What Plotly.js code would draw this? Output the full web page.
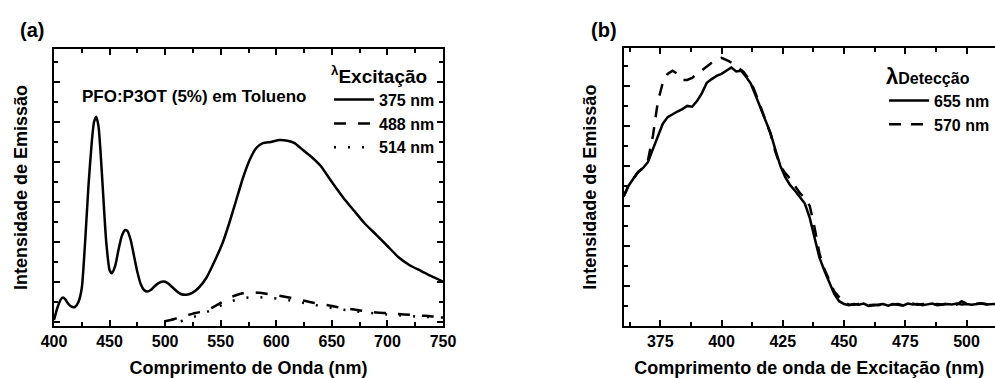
<!DOCTYPE html>
<html><head><meta charset="utf-8">
<script src="https://cdn.plot.ly/plotly-3.0.1.min.js"></script>
<style>html,body{margin:0;padding:0;overflow:hidden;background:#fff}#chart{width:995px;height:378px}</style>
</head><body><div id="chart"></div>
<script>
// ---------- Panel (a): emission spectra, PFO:P3OT (5%) in toluene ----------
const wlA375 = [400,403,406,408,410,413,416,419,422,425,428,431,434,436,438,440,442,444,447,450,452,455,458,461,464,466,469,472,475,478,481,484,487,490,494,498,502,506,510,514,519,524,530,537,545,552,558,564,570,576,582,588,595,603,610,616,624,632,640,650,660,670,680,690,700,710,720,730,740,750];
const intA375 = [0.05,0.35,0.56,0.61,0.57,0.45,0.38,0.38,0.50,0.85,2.0,3.4,4.5,5.0,5.13,4.9,4.2,3.3,2.0,1.30,1.22,1.40,1.80,2.15,2.30,2.28,2.05,1.65,1.25,0.95,0.80,0.76,0.80,0.88,0.97,1.01,0.98,0.88,0.78,0.70,0.68,0.72,0.85,1.10,1.55,2.00,2.50,3.05,3.60,4.05,4.35,4.47,4.50,4.55,4.53,4.48,4.30,4.12,3.90,3.50,3.12,2.78,2.45,2.18,1.90,1.62,1.42,1.28,1.14,1.01];
const wlA488 = [500,505,510,515,520,525,530,535,540,545,550,555,560,565,570,575,580,585,590,595,600,610,620,630,640,650,660,670,680,690,700,710,720,730,740,750];
const intA488 = [0.02,0.05,0.09,0.13,0.17,0.21,0.24,0.28,0.33,0.40,0.48,0.56,0.63,0.68,0.72,0.74,0.74,0.73,0.71,0.69,0.67,0.62,0.56,0.50,0.45,0.40,0.35,0.31,0.27,0.24,0.22,0.20,0.18,0.16,0.14,0.13];
const wlA514 = [514,520,525,530,535,540,545,550,555,560,565,570,575,580,585,590,595,600,610,620,630,640,650,660,670,680,690,700,710,720,730,740,750];
const intA514 = [0.02,0.07,0.12,0.17,0.22,0.28,0.34,0.41,0.47,0.52,0.56,0.59,0.61,0.62,0.62,0.61,0.60,0.59,0.55,0.50,0.45,0.40,0.35,0.31,0.27,0.24,0.21,0.19,0.17,0.15,0.13,0.12,0.11];
const ticksA = [400,450,500,550,600,650,700,750];

// ---------- Panel (b): excitation spectra ----------
const wlB655 = [360,362,364,366,368,370,372,374,376,378,380,382,384,386,388,390,392,394,396,398,400,402,404,406,408,410,412,414,416,418,420,422,424,426,428,430,432,434,436,438,440,442,444,446,448,450,452,454,456,458,460,462,464,466,468,470,472,474,476,478,480,482,484,486,488,490,492,494,496,498,500,502,504,506,508,510,512];
const intB655 = [3.23,3.50,3.68,3.85,3.95,4.10,4.42,4.75,5.05,5.22,5.30,5.36,5.42,5.50,5.48,5.62,5.82,6.08,6.17,6.25,6.30,6.38,6.46,6.36,6.38,6.23,6.05,5.75,5.45,5.15,4.82,4.40,4.00,3.72,3.52,3.38,3.22,3.06,2.70,2.20,1.70,1.38,1.10,0.80,0.62,0.55,0.52,0.55,0.53,0.56,0.50,0.52,0.54,0.55,0.51,0.55,0.53,0.51,0.56,0.54,0.55,0.52,0.54,0.56,0.52,0.53,0.55,0.54,0.56,0.54,0.55,0.53,0.55,0.56,0.54,0.55,0.55];
const wlB570 = [360,362,364,366,368,370,372,374,376,378,380,382,384,386,388,390,392,394,396,398,400,403,406,409,412,414,416,418,420,422,424,426,428,430,432,434,436,438,440,442,444,446,448,450,452,454,456,458,460,462,464,466,468,470,472,474,476,478,480,482,484,486,488,490,492,494,496,498,500,502,504,506,508,510,512];
const intB570 = [3.23,3.50,3.68,3.85,3.95,4.15,4.75,5.60,6.07,6.30,6.38,6.30,6.15,6.15,6.20,6.30,6.40,6.50,6.58,6.66,6.70,6.62,6.50,6.35,6.10,5.80,5.45,5.12,4.80,4.35,4.00,3.82,3.68,3.50,3.32,3.20,3.00,2.45,1.80,1.42,1.12,0.86,0.72,0.58,0.54,0.53,0.55,0.54,0.52,0.53,0.52,0.54,0.53,0.54,0.55,0.52,0.55,0.56,0.53,0.55,0.54,0.53,0.55,0.54,0.56,0.54,0.53,0.62,0.56,0.54,0.55,0.57,0.55,0.54,0.56];
const ticksB = [375,400,425,450,475,500];

const FONT = 'Liberation Sans, Arial, sans-serif';
const black = '#000';

const traces = [
  {x: wlA375, y: intA375, xaxis:'x', yaxis:'y', name:'375 nm', mode:'lines', legend:'legend',
   line:{color:black, width:2.5, shape:'spline', smoothing:0.6}},
  {x: wlA488, y: intA488, xaxis:'x', yaxis:'y', name:'488 nm', mode:'lines', legend:'legend',
   line:{color:black, width:2.5, dash:'12px,12px', shape:'spline'}},
  {x: wlA514, y: intA514, xaxis:'x', yaxis:'y', name:'514 nm', mode:'lines', legend:'legend',
   line:{color:black, width:2.5, dash:'2px,12px', shape:'spline'}},
  {x: wlB655, y: intB655, xaxis:'x2', yaxis:'y2', name:'655 nm', mode:'lines', legend:'legend2',
   line:{color:black, width:2.5}},
  {x: wlB570, y: intB570, xaxis:'x2', yaxis:'y2', name:'570 nm', mode:'lines', legend:'legend2',
   line:{color:black, width:2.5, dash:'12px,10px'}}
];

function xax(domain, range, tickvals, dtickMinor, title, standoff){
  return {domain, range, tickmode:'array', tickvals, ticks:'inside', ticklen:6, tickwidth:2, tickcolor:black,
    minor:{ticks:'inside', ticklen:4, tickwidth:2, tickcolor:black, dtick:dtickMinor},
    showline:true, linewidth:2, linecolor:black, mirror:'ticks', showgrid:false, zeroline:false,
    automargin:false, fixedrange:true,
    tickfont:{family:FONT, size:16, color:black, weight:'bold'},
    title:{text:title, font:{family:FONT, size:18, color:black, weight:'bold'}, standoff:standoff}};
}
function yax(domain, range, anchorX, mirror){
  return {domain, range, anchor:anchorX, tick0:0, dtick:1, ticks:'inside', ticklen:6, tickwidth:2, tickcolor:black,
    minor:{ticks:'inside', ticklen:4, tickwidth:2, tickcolor:black, dtick:0.5},
    showticklabels:false, showline:true, linewidth:2, linecolor:black, mirror:mirror,
    showgrid:false, zeroline:false, automargin:false, fixedrange:true,
    title:{text:'Intensidade de Emissão', font:{family:FONT, size:18, color:black, weight:'bold'}, standoff:20}};
}

const layout = {
  width:995, height:378, margin:{l:0, r:0, t:0, b:0},
  paper_bgcolor:'#fff', plot_bgcolor:'#fff',
  font:{family:FONT, size:16, color:black, weight:'bold'},
  xaxis: Object.assign(xax([54/995, 443/995], [400,750], ticksA, 25, 'Comprimento de Onda (nm)', 14), {anchor:'y'}),
  yaxis: yax([52/378, 329/378], [-0.1, 6.825], 'x', 'ticks'),
  xaxis2: Object.assign(xax([623.5/995, 1], [360,511.6], ticksB, 12.5, 'Comprimento de onda de Excitação (nm)', 14), {anchor:'y2'}),
  yaxis2: yax([52/378, 329.7/378], [0, 6.94], 'x2', false),
  showlegend:true,
  legend:{x:440/995, xanchor:'right', y:1-58/378, yanchor:'top', bgcolor:'rgba(0,0,0,0)', borderwidth:0,
    font:{family:FONT, size:16, color:black, weight:'bold'}, itemwidth:40, tracegroupgap:0,
    title:{text:'<sup>λ</sup>Excitação', font:{family:FONT, size:19, color:black, weight:'bold'}, side:'top'}},
  legend2:{x:1, xanchor:'right', y:1-55/378, yanchor:'top', bgcolor:'rgba(0,0,0,0)', borderwidth:0,
    font:{family:FONT, size:16, color:black, weight:'bold'}, itemwidth:40, tracegroupgap:0,
    title:{text:'λ<span style="font-size:16px">Detecção</span>', font:{family:FONT, size:22, color:black, weight:'bold'}, side:'top'}},
  annotations:[
    {text:'(a)', xref:'paper', yref:'paper', x:32/995, y:1-30/378, xanchor:'center', yanchor:'middle', showarrow:false,
     font:{family:FONT, size:20, color:black, weight:'bold'}},
    {text:'(b)', xref:'paper', yref:'paper', x:604/995, y:1-30/378, xanchor:'center', yanchor:'middle', showarrow:false,
     font:{family:FONT, size:20, color:black, weight:'bold'}},
    {text:'PFO:P3OT (5%) em Tolueno', xref:'paper', yref:'paper', x:194/995, y:1-96.7/378, xanchor:'center', yanchor:'middle', showarrow:false,
     font:{family:FONT, size:17, color:black, weight:'bold'}}
  ]
};

Plotly.newPlot('chart', traces, layout, {staticPlot:true, displayModeBar:false});
</script>
</body></html>
